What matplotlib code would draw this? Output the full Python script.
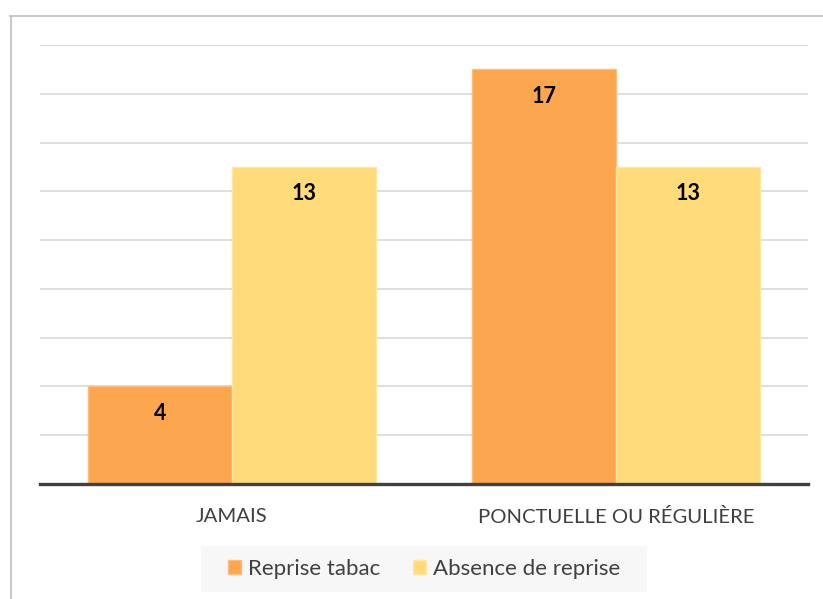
import matplotlib
matplotlib.use("Agg")
from matplotlib import pyplot as plt
from matplotlib.patches import Patch, Rectangle
from matplotlib.lines import Line2D
import numpy as np

categories = ["JAMAIS", "PONCTUELLE OU RÉGULIÈRE"]
series_names = ["Reprise tabac", "Absence de reprise"]
reprise = [4, 17]
absence = [13, 13]
colors = ["#FCA64F", "#FFDB7B"]
edges = ["#FDBD7E", "#FFE6A3"]

plt.rcParams['font.family'] = ['Lato', 'DejaVu Sans']

W, H = 823, 599
fig = plt.figure(figsize=(W / 100, H / 100), dpi=100)
ax = fig.add_axes([40 / W, (H - 484) / H, 768 / W, (484 - 45) / H])

x = np.arange(len(categories))
bw = 0.375
for i, (vals, c, e) in enumerate(zip([reprise, absence], colors, edges)):
    pos = x + (i - 0.5) * bw
    ax.bar(pos, vals, width=bw, color=c, edgecolor=e, linewidth=1, zorder=3,
           label=series_names[i])
    for p, v in zip(pos, vals):
        ax.annotate(str(v), (p, v), xytext=(0, -27), textcoords='offset pixels',
                    ha='center', va='center', fontsize=15.5, fontweight='bold',
                    color='black', zorder=4)

ax.set_xlim(-0.5, 1.5)
ax.set_ylim(0, 18)
ax.set_yticks(np.arange(0, 19, 2))
ax.yaxis.grid(True, color="#d9d9d9", linewidth=1.2, zorder=0)
ax.tick_params(axis='y', left=False, labelleft=False)
ax.tick_params(axis='x', bottom=False, pad=14, labelsize=14.6, labelcolor="#404040")
ax.set_xticks(x)
ax.set_xticklabels(categories)
for s in ['top', 'right', 'left']:
    ax.spines[s].set_visible(False)
ax.spines['bottom'].set_color("#404040")
ax.spines['bottom'].set_linewidth(2.4)
ax.spines['bottom'].set_zorder(5)

# outer frame (left and top only visible)
fig.add_artist(Line2D([10.5 / W, 10.5 / W], [0, 1 - 15.5 / H], color="#c4c4c4",
                      linewidth=1.3, transform=fig.transFigure))
fig.add_artist(Line2D([10 / W, 1], [1 - 15.5 / H, 1 - 15.5 / H], color="#c4c4c4",
                      linewidth=1.3, transform=fig.transFigure))

# legend background
fig.add_artist(Rectangle((201 / W, 1 - 592 / H), 446 / W, 46 / H,
                         facecolor="#f7f7f7", edgecolor="none",
                         transform=fig.transFigure, zorder=0))

handles = [Patch(facecolor=c, edgecolor=e) for c, e in zip(colors, edges)]
leg = fig.legend(handles, series_names, loc='center', ncol=2,
                 bbox_to_anchor=(424 / W, 1 - 569 / H), frameon=False,
                 fontsize=16, handlelength=0.6, handleheight=0.6,
                 handletextpad=0.3, columnspacing=1.5, borderpad=0.6,
                 borderaxespad=0)
for t in leg.get_texts():
    t.set_color("#404040")

fig.savefig("out.png", dpi=100)
